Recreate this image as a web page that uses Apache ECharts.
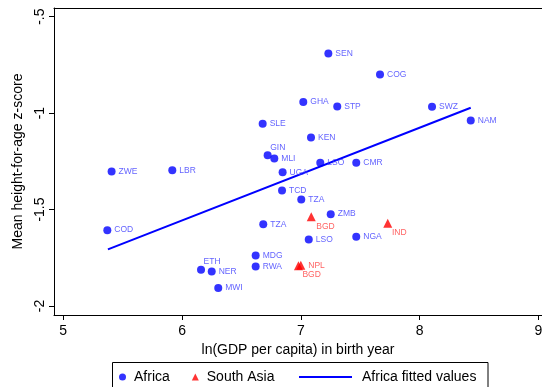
<!DOCTYPE html>
<html>
<head>
<meta charset="utf-8">
<script src="https://cdn.jsdelivr.net/npm/echarts@6/dist/echarts.min.js"></script>
<style>html,body{margin:0;padding:0;background:#fff;}#c{width:542px;height:387px;}</style>
</head>
<body>
<div id="c"></div>
<script>
// ---- data ----
var africaCodes = ['ZWE','LBR','SLE','SEN','COG','GHA','STP','SWZ','NAM','KEN','LSO','CMR','GIN','MLI','UGA','TCD','TZA','ZMB','LSO','NGA','TZA','MDG','RWA','ETH','NER','MWI','COD'];
var africaX = [5.407,5.918,6.679,7.232,7.667,7.021,7.307,8.105,8.431,7.086,7.164,7.467,6.721,6.777,6.847,6.842,7.004,7.252,7.067,7.467,6.684,6.620,6.620,6.160,6.250,6.305,5.371];
var africaY = [-1.303,-1.297,-1.055,-0.691,-0.800,-0.943,-0.966,-0.967,-1.038,-1.126,-1.258,-1.257,-1.219,-1.236,-1.307,-1.402,-1.448,-1.524,-1.655,-1.641,-1.576,-1.738,-1.795,-1.812,-1.822,-1.907,-1.607];
var asiaCodes = ['BGD','IND','NPL','BGD'];
var asiaX = [7.088,7.732,7.000,6.980];
var asiaY = [-1.537,-1.571,-1.789,-1.791];
var fitX = [5.376,8.431];
var fitY = [-1.707,-0.972];
var xTicks = [5,6,7,8,9];
var xTickLabels = ['5','6','7','8','9'];
var yTicks = [-2,-1.5,-1,-0.5];
var yTickLabels = ['-2','-1.5','-1','-.5'];

// ---- label placement (style only) ----
var africaLabelOffset = {12:[-4.5,-8], 23:[-4.5,-8]};
var asiaLabelOffset = {0:[-2.5,10], 1:[-3.3,9], 2:[0,0], 3:[-3.5,9]};

var FONT = 'Liberation Sans, Arial, Helvetica, sans-serif';

function buildPts(codes, xs, ys, offs) {
  return codes.map(function(c, i){
    var d = {value:[xs[i], ys[i]], name:c};
    if (offs[i]) d.label = {offset: offs[i]};
    return d;
  });
}

var chart = echarts.init(document.getElementById('c'), null, {renderer:'canvas'});
chart.setOption({
  animation:false,
  backgroundColor:'#fff',
  textStyle:{fontFamily:FONT},
  grid:{left:54, top:8, right:0, bottom:72, show:false, containLabel:false, outerBoundsMode:'none'},
  xAxis:[{
    type:'value', min:4.922, max:9.031,
    name:'ln(GDP per capita) in birth year', nameLocation:'middle', nameGap:21,
    nameTextStyle:{fontSize:14, color:'#000', fontFamily:FONT},
    axisLine:{show:true, onZero:false, lineStyle:{color:'#000', width:1}},
    axisTick:{show:true, inside:false, length:5, lineStyle:{color:'#000'}, customValues:xTicks},
    axisLabel:{fontSize:14, color:'#000', margin:9, customValues:xTicks, fontFamily:FONT,
      formatter:function(v){var i=xTicks.indexOf(v);return i>=0?xTickLabels[i]:'';}},
    splitLine:{show:false}
  },{
    type:'value', position:'top', min:4.922, max:9.031,
    axisLine:{show:true, onZero:false, lineStyle:{color:'#000', width:1}},
    axisTick:{show:false}, axisLabel:{show:false}, splitLine:{show:false}
  }],
  yAxis:{
    type:'value', min:-2.047, max:-0.455,
    name:'Mean height-for-age z-score', nameLocation:'middle', nameGap:28, nameRotate:90,
    nameTextStyle:{fontSize:14, color:'#000', fontFamily:FONT},
    axisLine:{show:true, onZero:false, lineStyle:{color:'#000', width:1}},
    axisTick:{show:true, inside:false, length:5, lineStyle:{color:'#000'}, customValues:yTicks},
    axisLabel:{fontSize:14, color:'#000', margin:7, rotate:90, customValues:yTicks, fontFamily:FONT,
      formatter:function(v){for(var i=0;i<yTicks.length;i++){if(Math.abs(yTicks[i]-v)<1e-6)return yTickLabels[i];}return '';}},
    splitLine:{show:false}
  },
  legend:[
    {data:[{name:'Africa', icon:'circle'},{name:'South Asia', icon:'triangle'}],
     left:119, top:370, itemWidth:7, itemHeight:7, itemGap:22, padding:0,
     textStyle:{fontSize:14, color:'#000', padding:[0,0,0,3], fontFamily:FONT}},
    {data:[{name:'Africa fitted values', icon:'rect'}],
     left:299, top:370, itemWidth:53, itemHeight:2, padding:0,
     textStyle:{fontSize:14, color:'#000', padding:[0,0,0,5], fontFamily:FONT}}
  ],
  graphic:[{type:'rect', shape:{x:112.5, y:362.5, width:375.5, height:40}, style:{fill:'none', stroke:'#000', lineWidth:1}, silent:true}],
  series:[
    {name:'Africa', type:'scatter', symbol:'circle', symbolSize:8,
     itemStyle:{color:'#0000ff'},
     label:{show:true, position:'right', distance:3, formatter:'{b}', fontSize:8.5, color:'#3a3aff', fontFamily:FONT},
     data:buildPts(africaCodes, africaX, africaY, africaLabelOffset), z:3},
    {name:'South Asia', type:'scatter', symbol:'triangle', symbolSize:9,
     itemStyle:{color:'#ff0000'},
     label:{show:true, position:'right', distance:3, formatter:'{b}', fontSize:8.5, color:'#ff3a3a', fontFamily:FONT},
     data:buildPts(asiaCodes, asiaX, asiaY, asiaLabelOffset), z:3},
    {name:'Africa fitted values', type:'line', symbol:'none', showSymbol:false,
     lineStyle:{color:'#0000ff', width:2}, itemStyle:{color:'#0000ff'},
     data:fitX.map(function(x,i){return [x, fitY[i]];}), z:2}
  ]
});
</script>
</body>
</html>
